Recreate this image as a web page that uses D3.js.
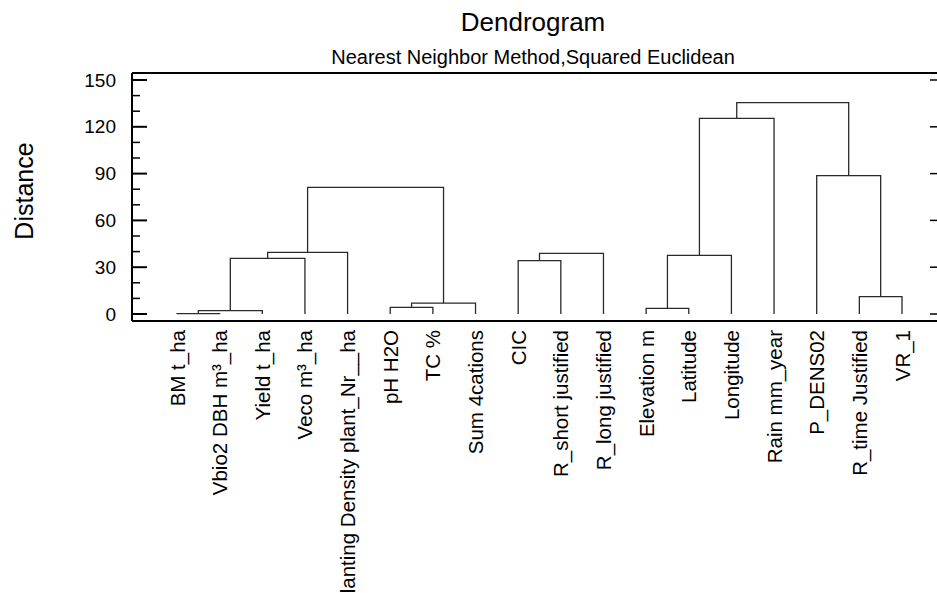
<!DOCTYPE html>
<html>
<head>
<meta charset="utf-8">
<script src="https://cdn.jsdelivr.net/npm/d3@7"></script>
<style>
  body { margin: 0; background: #fff; }
  svg { display: block; font-family: "Liberation Sans", Arial, sans-serif; }
</style>
</head>
<body>
<div id="chart"></div>
<script>
// Leaves in dendrogram order
const leaves = [
  "BM t_ha", "Vbio2 DBH m³_ha", "Yield t_ha", "Veco m³_ha",
  "Planting Density plant_Nr__ha", "pH H2O", "TC %", "Sum 4cations",
  "CIC", "R_short justified", "R_long justified", "Elevation m",
  "Latitude", "Longitude", "Rain mm_year", "P_DENS02",
  "R_time Justified", "VR_1"
];

// Merges: [left, right, distance]; numbers are leaf indexes, "m#" are earlier merges
const merges = [
  [0, 1, 0.3],
  ["m0", 2, 2.2],
  ["m1", 3, 35.7],
  ["m2", 4, 39.5],
  [5, 6, 4.3],
  ["m4", 7, 7.0],
  ["m3", "m5", 81.2],
  [8, 9, 34.2],
  ["m7", 10, 38.9],
  [11, 12, 3.6],
  ["m9", 13, 37.6],
  ["m10", 14, 125.4],
  [16, 17, 11.1],
  [15, "m12", 88.7],
  ["m11", "m13", 135.5]
];

const yTicks = [0, 30, 60, 90, 120, 150];
const yMinorTicks = [10, 20, 40, 50, 70, 80, 100, 110, 130, 140];

const width = 937;
const height = 593;
const plot = { left: 132, right: 937, top: 73, bottom: 321 };

const svg = d3.select("#chart").append("svg").attr("width", width).attr("height", height);

const x = d3.scalePoint().domain(leaves).range([177, 902]);
const y = d3.scaleLinear().domain([0, 150]).range([314, 80]);

// Build tree nodes from merges, parent x = midpoint of its two children
const nodes = {};
leaves.forEach((name, i) => {
  nodes[i] = { name, h: 0, x: x(name) };
});
merges.forEach(([a, b, h], k) => {
  const left = nodes[a];
  const right = nodes[b];
  nodes["m" + k] = { h, children: [left, right], x: (left.x + right.x) / 2 };
});

const links = svg.append("g").attr("fill", "none").attr("stroke", "#2a2a2a").attr("stroke-width", 1.3);
merges.forEach((m, k) => {
  const n = nodes["m" + k];
  const [l, r] = n.children;
  const path = d3.path();
  path.moveTo(l.x, y(l.h));
  path.lineTo(l.x, y(n.h));
  path.lineTo(r.x, y(n.h));
  path.lineTo(r.x, y(r.h));
  links.append("path").attr("d", path.toString());
});

// Frame: top, bottom, left
const frame = svg.append("g").attr("stroke", "#000").attr("stroke-width", 2);
frame.append("line").attr("x1", plot.left).attr("x2", plot.right).attr("y1", plot.top).attr("y2", plot.top);
frame.append("line").attr("x1", plot.left).attr("x2", plot.right).attr("y1", plot.bottom).attr("y2", plot.bottom);
frame.append("line").attr("x1", plot.left).attr("x2", plot.left).attr("y1", plot.top).attr("y2", plot.bottom);

// Left axis ticks
const leftAxis = svg.append("g").attr("stroke", "#000");
leftAxis.selectAll("line.minor")
  .data(yMinorTicks)
  .join("line")
  .attr("class", "minor")
  .attr("x1", plot.left).attr("x2", plot.left + 8)
  .attr("y1", (d) => y(d)).attr("y2", (d) => y(d))
  .attr("stroke-width", 1.5);
leftAxis.selectAll("line.major")
  .data(yTicks)
  .join("line")
  .attr("class", "major")
  .attr("x1", plot.left).attr("x2", plot.left + 15)
  .attr("y1", (d) => y(d)).attr("y2", (d) => y(d))
  .attr("stroke-width", 2);

// Right axis ticks
svg.append("g").attr("stroke", "#000").attr("stroke-width", 1.5)
  .selectAll("line")
  .data(yTicks)
  .join("line")
  .attr("x1", plot.right - 7).attr("x2", plot.right)
  .attr("y1", (d) => y(d)).attr("y2", (d) => y(d));

svg.append("g")
  .selectAll("text")
  .data(yTicks)
  .join("text")
  .attr("x", 116)
  .attr("y", (d) => y(d))
  .attr("text-anchor", "end")
  .attr("dominant-baseline", "central")
  .attr("font-size", 19)
  .text((d) => d);

// Leaf labels (the long one runs off the bottom, as in the original)
svg.append("g")
  .selectAll("text")
  .data(leaves)
  .join("text")
  .attr("transform", (d) => `translate(${x(d)},330) rotate(-90)`)
  .attr("text-anchor", "end")
  .attr("dominant-baseline", "central")
  .attr("font-size", 20.5)
  .text((d) => d);

// Titles
svg.append("text")
  .attr("x", 533).attr("y", 31)
  .attr("text-anchor", "middle")
  .attr("font-size", 26)
  .text("Dendrogram");
svg.append("text")
  .attr("x", 533).attr("y", 64)
  .attr("text-anchor", "middle")
  .attr("font-size", 20)
  .text("Nearest Neighbor Method,Squared Euclidean");
svg.append("text")
  .attr("transform", "translate(33,191) rotate(-90)")
  .attr("text-anchor", "middle")
  .attr("font-size", 25)
  .text("Distance");
</script>
</body>
</html>
